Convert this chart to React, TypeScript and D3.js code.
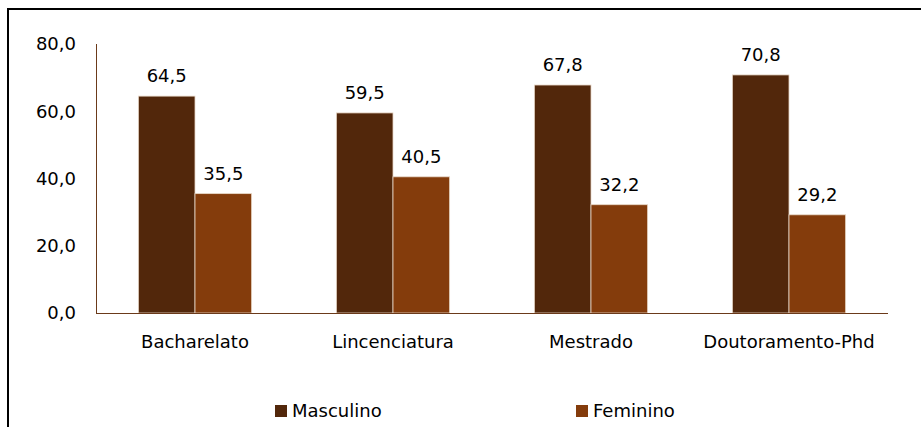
import React from "react";
import * as d3 from "d3";

const categories = ["Bacharelato", "Lincenciatura", "Mestrado", "Doutoramento-Phd"];
const seriesNames = ["Masculino", "Feminino"];
const masculino = [64.5, 59.5, 67.8, 70.8];
const feminino = [35.5, 40.5, 32.2, 29.2];
const yTicks = [0, 20, 40, 60, 80];
const colors = ["#52270b", "#843c0c"];

const W = 921;
const H = 427;
const FONT = "'DejaVu Sans', Verdana, sans-serif";

export default function App() {
  const values = [masculino, feminino];
  const x = d3.scaleBand<string>().domain(categories).range([96, 888]).paddingInner(0.428).paddingOuter(0.214);
  const xs = d3.scaleBand<string>().domain(seriesNames).range([0, x.bandwidth()]);
  const y = d3.scaleLinear().domain([0, 80]).range([313, 44]);
  const fmt = (v: number) => v.toFixed(1).replace(".", ",");

  return (
    <div style={{ position: "fixed", left: 0, top: 0 }}>
      <svg width={W} height={H} style={{ display: "block", background: "#fff" }} fontFamily={FONT}>
        {/* frame */}
        <line x1={8} x2={W} y1={9} y2={9} stroke="#000" strokeWidth={2} />
        <line x1={8} x2={8} y1={8} y2={H} stroke="#000" strokeWidth={2} />

        {/* y tick labels */}
        {yTicks.map((t) => (
          <text key={t} x={76} y={y(t)} dy="0.36em" textAnchor="end" fontSize={18} fill="#000">
            {fmt(t)}
          </text>
        ))}

        {/* bars */}
        {categories.map((c, i) => (
          <g key={c} transform={`translate(${x(c)},0)`}>
            {seriesNames.map((s, j) => {
              const v = values[j][i];
              const bx = xs(s)!;
              return (
                <g key={s}>
                  <rect
                    x={bx}
                    y={y(v)}
                    width={xs.bandwidth()}
                    height={y(0) - y(v)}
                    fill={colors[j]}
                    stroke="#e8d8c8"
                    strokeWidth={0.8}
                  />
                  <text x={bx + xs.bandwidth() / 2} y={y(v) - 14} textAnchor="middle" fontSize={18} fill="#000">
                    {fmt(v)}
                  </text>
                </g>
              );
            })}
            <text x={x.bandwidth() / 2} y={348} textAnchor="middle" fontSize={18} fill="#000">
              {c}
            </text>
          </g>
        ))}

        {/* axes */}
        <line x1={96.5} x2={96.5} y1={y(80)} y2={y(0)} stroke="#6b3a1a" strokeWidth={1} />
        <line x1={96} x2={888} y1={y(0) + 0.5} y2={y(0) + 0.5} stroke="#6b3a1a" strokeWidth={1} />

        {/* legend */}
        {seriesNames.map((s, j) => {
          const lx = [275, 576][j];
          return (
            <g key={s}>
              <rect x={lx} y={405} width={12} height={12} fill={colors[j]} />
              <text x={lx + 17} y={417} fontSize={18} fill="#000">
                {s}
              </text>
            </g>
          );
        })}
      </svg>
    </div>
  );
}
